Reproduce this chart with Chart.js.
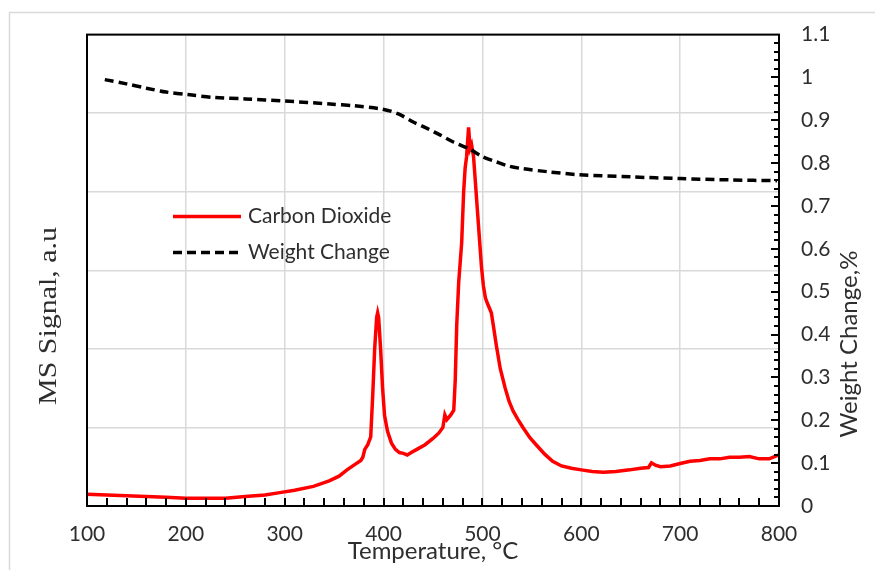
<!DOCTYPE html>
<html>
<head>
<meta charset="utf-8">
<script src="https://cdn.jsdelivr.net/npm/chart.js@4.4.1/dist/chart.umd.min.js"></script>
<style>
  html, body { margin: 0; padding: 0; background: #fff; }
  #wrap { position: relative; width: 875px; height: 570px; }
</style>
</head>
<body>
<div id="wrap"><canvas id="tgaChart"></canvas></div>
<script>
// CO2 MS signal (arbitrary units, left axis 0..6)
const co2Temp = [100, 120, 140, 160, 180, 200, 220, 240, 260, 280, 295, 310, 329, 345, 355, 363, 370, 377, 379, 381, 384, 387, 389, 391, 393, 394, 395, 397, 399, 401, 404, 408, 412, 416, 420, 424, 428, 435, 442, 450, 456, 460, 462, 464, 468, 471, 472.5, 474, 476, 479, 481, 482.5, 484, 486, 487.5, 489, 491, 493, 495, 497, 499, 501, 503, 505, 507, 509, 511, 514, 518, 523, 527, 531, 536, 541, 548, 555, 563, 571, 580, 590, 600, 611, 622, 635, 649, 660, 668, 671, 675, 680, 690, 700, 710, 720, 730, 740, 750, 760, 770, 780, 790, 800];
const co2Signal = [0.15, 0.14, 0.13, 0.12, 0.11, 0.10, 0.10, 0.10, 0.12, 0.14, 0.17, 0.20, 0.25, 0.32, 0.38, 0.46, 0.52, 0.58, 0.62, 0.72, 0.78, 0.88, 1.40, 2.00, 2.40, 2.46, 2.40, 2.00, 1.50, 1.15, 0.95, 0.80, 0.72, 0.68, 0.67, 0.65, 0.68, 0.73, 0.78, 0.86, 0.93, 1.00, 1.16, 1.10, 1.16, 1.22, 1.60, 2.30, 2.85, 3.35, 4.00, 4.30, 4.45, 4.82, 4.55, 4.60, 4.45, 4.10, 3.75, 3.40, 3.05, 2.80, 2.65, 2.58, 2.52, 2.46, 2.30, 2.05, 1.75, 1.50, 1.33, 1.21, 1.10, 1.00, 0.87, 0.77, 0.66, 0.57, 0.51, 0.48, 0.46, 0.44, 0.43, 0.44, 0.46, 0.48, 0.49, 0.55, 0.52, 0.50, 0.51, 0.54, 0.57, 0.58, 0.60, 0.60, 0.62, 0.62, 0.63, 0.60, 0.60, 0.65];

// weight change (right axis)
const wtTemp = [118, 140, 160, 180, 202, 230, 260, 300, 346, 370, 399, 415, 430, 445, 457, 470, 487, 500, 514, 527, 541, 566, 598, 650, 700, 750, 798];
const wtChange = [0.995, 0.985, 0.975, 0.966, 0.960, 0.953, 0.950, 0.945, 0.938, 0.934, 0.926, 0.915, 0.896, 0.880, 0.866, 0.850, 0.833, 0.815, 0.803, 0.793, 0.787, 0.780, 0.773, 0.768, 0.764, 0.761, 0.759];

const xTicks = [100, 200, 300, 400, 500, 600, 700, 800];
const rightTicks = [0, 0.1, 0.2, 0.3, 0.4, 0.5, 0.6, 0.7, 0.8, 0.9, 1, 1.1];

const seriesNames = ['Carbon Dioxide', 'Weight Change'];
const xTitle = 'Temperature, °C';
const leftTitle = 'MS Signal, a.u';
const rightTitle = 'Weight Change,%';

const sansFont = 'Lato, "Open Sans", sans-serif';
const textColor = '#2e2e2e';
const gridColor = '#d9d9d9';

const toPoints = (xs, ys) => xs.map((x, i) => ({ x, y: ys[i] }));

// frame, inside tick marks, titles and the in-plot legend
const decorations = {
  id: 'decorations',
  beforeDraw(chart) {
    const ctx = chart.ctx;
    ctx.save();
    ctx.strokeStyle = gridColor;
    ctx.lineWidth = 1.5;
    ctx.strokeRect(9.5, 12.5, 1000, 1000);
    ctx.restore();
  },
  afterDraw(chart) {
    const { ctx, chartArea: a, scales } = chart;
    ctx.save();
    ctx.setLineDash([]);

    // box around plot
    ctx.strokeStyle = '#000000';
    ctx.lineWidth = 2;
    ctx.strokeRect(a.left, a.top, a.right - a.left, a.bottom - a.top);

    // minor ticks on x every 20
    ctx.lineWidth = 2;
    ctx.beginPath();
    for (let t = 120; t < 800; t += 20) {
      const px = Math.round(scales.x.getPixelForValue(t));
      ctx.moveTo(px, a.bottom);
      ctx.lineTo(px, a.bottom - 8);
    }
    // right axis ticks, major 0.1 and minor 0.02
    for (let i = 1; i < 55; i++) {
      const py = Math.round(scales.y1.getPixelForValue(i * 0.02));
      const len = i % 5 === 0 ? 8 : 5;
      ctx.moveTo(a.right, py);
      ctx.lineTo(a.right - len, py);
    }
    ctx.stroke();

    // axis titles
    ctx.fillStyle = textColor;
    ctx.textAlign = 'center';
    ctx.textBaseline = 'middle';
    ctx.font = '24px ' + sansFont;
    ctx.fillText(xTitle, (a.left + a.right) / 2, 551);

    ctx.save();
    ctx.translate(49, 316);
    ctx.rotate(-Math.PI / 2);
    ctx.scale(1.15, 1);
    ctx.font = '26px "Liberation Serif", "Times New Roman", serif';
    ctx.fillText(leftTitle, 0, 0);
    ctx.restore();

    ctx.save();
    ctx.translate(849, 344);
    ctx.rotate(-Math.PI / 2);
    ctx.font = '24px ' + sansFont;
    ctx.fillText(rightTitle, 0, 0);
    ctx.restore();

    // legend
    const lx = a.left + 86, ly = a.top + 182;
    const styles = [
      { color: '#ff0000', dash: [] },
      { color: '#000000', dash: [9, 5] }
    ];
    ctx.textAlign = 'left';
    ctx.font = '21px ' + sansFont;
    seriesNames.forEach((name, i) => {
      const y = ly + i * 36;
      ctx.strokeStyle = styles[i].color;
      ctx.lineWidth = 3.5;
      ctx.setLineDash(styles[i].dash);
      ctx.beginPath();
      ctx.moveTo(lx, y);
      ctx.lineTo(lx + 68, y);
      ctx.stroke();
      ctx.setLineDash([]);
      ctx.fillStyle = textColor;
      ctx.fillText(name, lx + 75, y);
    });
    ctx.restore();
  }
};

new Chart(document.getElementById('tgaChart'), {
  type: 'line',
  data: {
    datasets: [
      {
        label: seriesNames[1],
        data: toPoints(wtTemp, wtChange),
        yAxisID: 'y1',
        borderColor: '#000000',
        borderWidth: 3.5,
        borderDash: [9, 5],
        pointRadius: 0,
        tension: 0.3,
        order: 0
      },
      {
        label: seriesNames[0],
        data: toPoints(co2Temp, co2Signal),
        yAxisID: 'y',
        borderColor: '#ff0000',
        borderWidth: 3.5,
        pointRadius: 0,
        tension: 0,
        order: 1
      }
    ]
  },
  options: {
    responsive: true,
    maintainAspectRatio: false,
    animation: false,
    layout: { padding: { top: 32, left: 0, right: 0, bottom: 0 } },
    plugins: { legend: { display: false }, tooltip: { enabled: false } },
    scales: {
      x: {
        type: 'linear',
        min: 100,
        max: 800,
        afterBuildTicks: s => { s.ticks = xTicks.map(v => ({ value: v })); },
        afterFit: s => { s.height = 64; },
        ticks: { color: textColor, font: { family: sansFont, size: 21 }, padding: 16, maxRotation: 0 },
        grid: { color: gridColor, lineWidth: 1.5, drawTicks: false },
        border: { display: true, color: '#000', width: 2 }
      },
      y: {
        position: 'left',
        min: 0,
        max: 6,
        ticks: { display: false, stepSize: 1 },
        afterFit: s => { s.width = 87; },
        grid: { color: gridColor, lineWidth: 1.5, drawTicks: false },
        border: { display: true, color: '#000', width: 2 }
      },
      y1: {
        position: 'right',
        min: 0,
        max: 1.1,
        afterBuildTicks: s => { s.ticks = rightTicks.map(v => ({ value: v })); },
        afterFit: s => { s.width = 96; },
        ticks: {
          color: textColor,
          font: { family: sansFont, size: 21 },
          padding: 22,
          callback: v => String(+v.toFixed(1))
        },
        grid: { drawOnChartArea: false, drawTicks: false },
        border: { display: true, color: '#000', width: 2 }
      }
    }
  },
  plugins: [decorations]
});
</script>
</body>
</html>
